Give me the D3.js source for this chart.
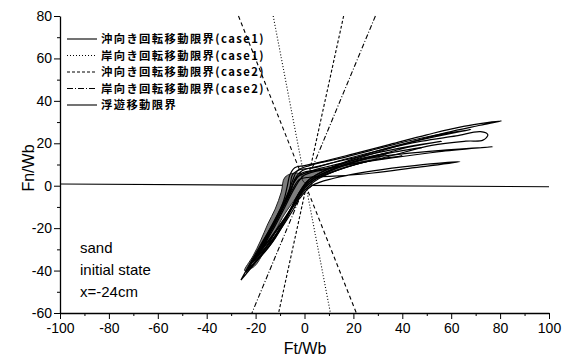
<!DOCTYPE html>
<html>
<head>
<meta charset="utf-8">
<script src="https://cdn.jsdelivr.net/npm/d3@7"></script>
<style>
  body { margin: 0; background: #fff; }
  svg text { font-family: Arial, "Liberation Sans", Helvetica, sans-serif; fill: #000; }
  .legend text { font-family: "Noto Sans CJK JP", sans-serif; font-weight: bold; font-size: 11.3px; letter-spacing: 1.4px; }
</style>
</head>
<body>
<div id="chart"></div>
<script>
// axis ticks
const xTicks = [-100, -80, -60, -40, -20, 0, 20, 40, 60, 80, 100];
const yTicks = [-60, -40, -20, 0, 20, 40, 60, 80];

// limit lines [Ft, Fn] end points
const offCase1 = [[16, 80], [-10.6, -60]];
const onCase1 = [[-12.8, 80], [10.6, -60]];
const offCase2 = [[-27, 80], [21.2, -60]];
const onCase2 = [[29, 80], [-21.5, -60]];
const floatLimit = [[-100, 0.8], [100, -0.5]];

const legendNames = ['沖向き回転移動限界(case1)', '岸向き回転移動限界(case1)', '沖向き回転移動限界(case2)', '岸向き回転移動限界(case2)', '浮遊移動限界'];
const notes = ['sand', 'initial state', 'x=-24cm'];

// measured Ft/Wb - Fn/Wb loops
const cycle1 = [[-26,-44.5],[-22,-36],[-17,-26],[-12,-16],[-8.5,-7],[-7,0],[-6,5],[-4,8.5],[0,9.5],[8,11.5],[20,15],[35,19.5],[50,24],[65,28],[80.6,30.6],[72,28.5],[58,25],[42,20],[25,14],[10,8],[2,3],[-2,-3],[-6,-12],[-12,-22],[-18,-33],[-26,-44.5]];
const cycle2 = [[-23,-39],[-19,-31],[-14,-20],[-9,-9],[-6,-1],[-5,5],[-2,7.5],[4,8.5],[15,12],[30,16.5],[48,21],[62,23.5],[72,25.5],[75,24],[73,21.5],[66,21],[52,19],[35,14],[18,9],[6,4],[0,-1],[-4,-10],[-10,-21],[-16,-31],[-23,-39]];
const cycle3 = [[-21,-36],[-16,-26],[-11,-15],[-7,-5],[-4,2],[-1,6],[6,7.5],[18,10],[35,13],[55,16],[77,18.4],[60,17],[40,15],[22,12],[8,6],[1,1],[-3,-6],[-8,-17],[-14,-28],[-21,-36]];
const cycle4 = [[-19,-33],[-14,-22],[-9,-11],[-5,-2],[-2,3],[2,4],[12,4.5],[28,6],[45,8.5],[63.6,11.3],[45,9.5],[28,7],[12,3.5],[3,0],[-2,-6],[-7,-14],[-12,-24],[-19,-33]];
const cycle5 = [[-24,-41],[-19,-31],[-13,-19],[-8,-8],[-5,2],[-3,7],[2,9.5],[15,13],[30,17.5],[48,22.5],[68,26.5],[55,23.5],[38,19],[22,13.5],[8,7],[1,2],[-3,-5],[-8,-16],[-15,-29],[-24,-41]];
const cycle6 = [[-22,-37],[-17,-27],[-11,-15],[-6,-4],[-4,3],[-1,7],[5,9],[18,12.5],[36,17],[56,21],[42,18],[26,13],[12,8],[3,3],[-2,-3],[-6,-12],[-13,-25],[-22,-37]];
const cycle7 = [[-20,-34],[-15,-24],[-10,-13],[-6,-3],[-3,4],[3,7],[15,10.5],[30,14.5],[48,18],[35,15.5],[20,11],[8,5.5],[1,0],[-4,-8],[-10,-19],[-20,-34]];
const cycle8 = [[-18,-31],[-13,-21],[-8,-10],[-4,-1],[0,5],[10,8],[25,11.5],[40,14],[28,12],[14,7.5],[4,2],[-2,-5],[-8,-15],[-18,-31]];
const cycles = [cycle1, cycle2, cycle3, cycle4, cycle5, cycle6, cycle7, cycle8];

// dense (shaded) part of the loops
const denseLow = [[2,3],[-3,6],[-8,4],[-9.5,-3],[-12,-11],[-15,-18],[-18,-26],[-21,-33],[-24.5,-40],[-20.5,-38],[-16.5,-31],[-13,-24],[-9,-15],[-5.5,-9],[-1.5,-3],[3,0]];
const denseUp = [[-1,5],[10,8.5],[22,12],[34,15.5],[30,13],[18,9],[6,4],[0,1.5]];

const width = 571;
const height = 358;

const svg = d3.select('#chart').append('svg')
  .attr('width', width)
  .attr('height', height);

const x = d3.scaleLinear().domain([-100, 100]).range([60, 549]);
const y = d3.scaleLinear().domain([-60, 80]).range([313, 16]);

// minor ticks every 10
svg.append('g')
  .attr('transform', 'translate(0,313)')
  .call(d3.axisBottom(x).tickValues(d3.range(-90, 100, 20)).tickSize(3).tickFormat(''))
  .call(g => g.select('.domain').remove());
svg.append('g')
  .attr('transform', 'translate(60,0)')
  .call(d3.axisLeft(y).tickValues(d3.range(-50, 80, 20)).tickSize(3).tickFormat(''))
  .call(g => g.select('.domain').remove());

const xAxis = svg.append('g')
  .attr('transform', 'translate(0,313)')
  .call(d3.axisBottom(x).tickValues(xTicks).tickSize(6).tickSizeOuter(0).tickPadding(4).tickFormat(d => String(d)));
xAxis.selectAll('text').attr('font-size', 14);

const yAxis = svg.append('g')
  .attr('transform', 'translate(60,0)')
  .call(d3.axisLeft(y).tickValues(yTicks).tickSize(6).tickSizeOuter(0).tickPadding(2).tickFormat(d => String(d)));
yAxis.selectAll('text').attr('font-size', 14);

svg.selectAll('.domain').attr('stroke-width', 1.3);

// axis titles
svg.append('text')
  .attr('x', 305).attr('y', 354)
  .attr('text-anchor', 'middle')
  .attr('font-size', 16)
  .text('Ft/Wb');
svg.append('text')
  .attr('transform', 'translate(34,168) rotate(-90)')
  .attr('text-anchor', 'middle')
  .attr('font-size', 16)
  .text('Fn/Wb');

const line = d3.line().x(d => x(d[0])).y(d => y(d[1]));
const smooth = d3.line().x(d => x(d[0])).y(d => y(d[1])).curve(d3.curveCatmullRomClosed.alpha(0.5));

// limit lines
const limits = [
  { data: floatLimit, dash: null },
  { data: offCase1, dash: '3,2' },
  { data: onCase1, dash: '1,2' },
  { data: offCase2, dash: '4,3' },
  { data: onCase2, dash: '5,2,1,2' }
];
limits.forEach(l => {
  svg.append('path')
    .datum(l.data)
    .attr('fill', 'none')
    .attr('stroke', '#000')
    .attr('stroke-width', 1.1)
    .attr('stroke-dasharray', l.dash)
    .attr('d', line);
});

// shaded dense region
[denseLow, denseUp].forEach(d => {
  svg.append('path')
    .datum(d)
    .attr('fill', '#7d7d7d')
    .attr('stroke', '#222')
    .attr('stroke-width', 1)
    .attr('d', smooth);
});

// loops
svg.selectAll('.loop')
  .data(cycles)
  .enter().append('path')
  .attr('class', 'loop')
  .attr('fill', 'none')
  .attr('stroke', '#000')
  .attr('stroke-width', 1.2)
  .attr('d', smooth);

// legend
const legendDash = [null, '1,2', '3,2', '6,2,1,2', null];
const legend = svg.append('g').attr('class', 'legend');
legendNames.forEach((name, i) => {
  const ly = 39 + i * 16.5;
  legend.append('line')
    .attr('x1', 67).attr('x2', 97)
    .attr('y1', ly).attr('y2', ly)
    .attr('stroke', '#000')
    .attr('stroke-width', 1.1)
    .attr('stroke-dasharray', legendDash[i]);
  legend.append('text')
    .attr('x', 101).attr('y', ly + 4)
    .text(name);
});

// annotation
notes.forEach((t, i) => {
  svg.append('text')
    .attr('x', 80).attr('y', 253 + i * 22)
    .attr('font-size', 15)
    .text(t);
});
</script>
</body>
</html>
